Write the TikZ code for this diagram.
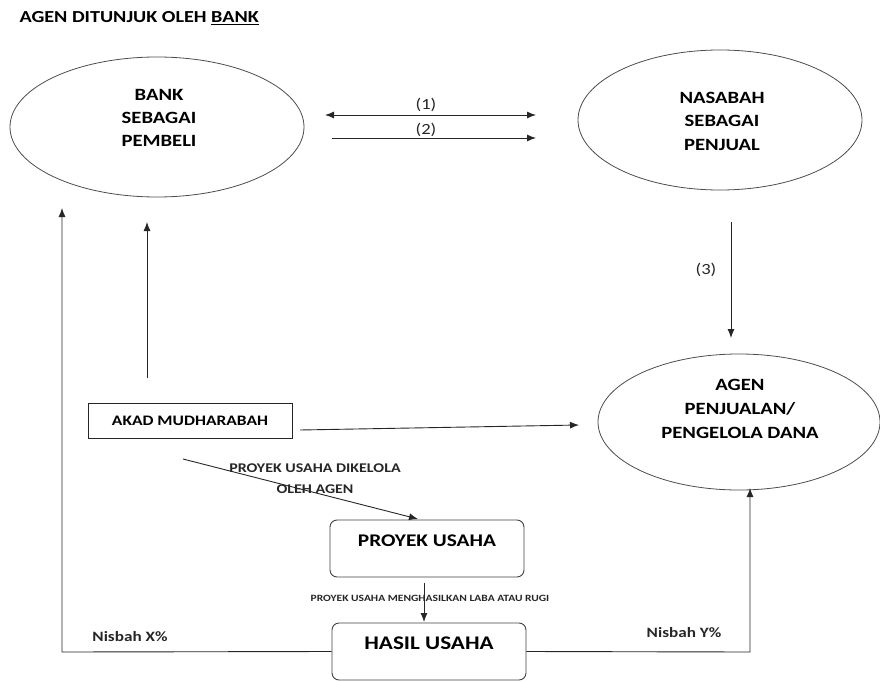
\documentclass[tikz,border=0pt]{standalone}
\usepackage{fontspec}
\setmainfont{Carlito}[FakeStretch=1.2]
\usetikzlibrary{arrows.meta,shapes.geometric}
\begin{document}
\begin{tikzpicture}[x=1pt,y=-1pt,
  every node/.style={font=\bfseries},
  arr/.style={draw=black!85,line width=0.9pt,-{Latex[length=9pt,width=7pt]}},
  lbl/.style={font=\bfseries\fontsize{14.3}{16}\selectfont,text=black!85},
  num/.style={font=\fontsize{15.5}{17}\selectfont,text=black!85},
  rbox/.style={draw=black!75,line width=0.9pt,rounded corners=7pt,minimum width=194pt,minimum height=57pt}]
\useasboundingbox (0,0) rectangle (880,682);
\node[anchor=west,font=\bfseries\fontsize{16.8}{18}\selectfont] (title) at (16,18) {AGEN DITUNJUK OLEH \underline{BANK}};
% ellipses
\draw[black!70,line width=0.8pt] (157,127) ellipse [x radius=147, y radius=70];
\node[align=center,font=\bfseries\fontsize{17.2}{23}\selectfont] (banktxt) at (159,118) {BANK\\SEBAGAI\\PEMBELI};
\draw[black!70,line width=0.8pt] (720,120) ellipse [x radius=142, y radius=70];
\node[align=center,font=\bfseries\fontsize{17.2}{23.5}\selectfont] (nastxt) at (722,121) {NASABAH\\SEBAGAI\\PENJUAL};
\draw[black!70,line width=0.8pt] (739,422) ellipse [x radius=141, y radius=68];
\node[align=center,font=\bfseries\fontsize{17.2}{24}\selectfont] (agentxt) at (740,409) {AGEN\\PENJUALAN/\\PENGELOLA DANA};
% arrows 1 2 3
\coordinate (a1) at (325,115); \coordinate (b1) at (536,115);
\coordinate (a2) at (332,138); \coordinate (b2) at (536,138);
\draw[arr,{Latex[length=9pt,width=7pt]}-{Latex[length=9pt,width=7pt]}] (a1) -- (b1);
\draw[arr] (a2) -- (b2);
\node[num] (l1) at (426,105) {(1)};
\node[num] (l2) at (426,130) {(2)};
\coordinate (a3) at (731,222); \coordinate (b3) at (731,338);
\draw[arr] (a3) -- (b3);
\node[num] (l3) at (706,270) {(3)};
% akad box
\node[draw=black!85,line width=0.9pt,minimum width=204pt,minimum height=35pt,font=\bfseries\fontsize{14.5}{16}\selectfont] (akad) at (190,420.5) {AKAD MUDHARABAH};
\coordinate (akR) at (300,430); \coordinate (agL) at (579,425);
\draw[arr] (akR) -- (agL);
\coordinate (up1) at (147,378); \coordinate (up2) at (147,222);
\draw[arr] (up1) -- (up2);
% proyek
\node[rbox] (proyek) at (427,548.5) {};
\node[font=\bfseries\fontsize{17.8}{19}\selectfont] (proyektxt) at (427,541) {PROYEK USAHA};
\coordinate (d1) at (183,459); \coordinate (d2) at (418,519);
\draw[arr] (d1) -- (d2);
\node[lbl,align=center,font=\bfseries\fontsize{13.3}{21}\selectfont] (dlbl) at (315,479) {PROYEK USAHA DIKELOLA\\OLEH AGEN};
% hasil
\node[rbox] (hasil) at (429,651.5) {};
\node[font=\bfseries\fontsize{19.3}{21}\selectfont] (hasiltxt) at (429,643) {HASIL USAHA};
\coordinate (p1) at (424,583); \coordinate (p2) at (424,622);
\draw[arr] (p1) -- (p2);
\node[lbl,font=\bfseries\fontsize{9.6}{11}\selectfont] (plbl) at (430,598) {PROYEK USAHA MENGHASILKAN LABA ATAU RUGI};
% nisbah lines
\coordinate (xc) at (62,652); \coordinate (xt) at (62,208);
\draw[arr] (hasil.west) -- (xc) -- (xt);
\coordinate (yc) at (750,652); \coordinate (yt) at (750,488);
\draw[arr] (hasil.east) -- (yc) -- (yt);
\node[lbl] (nx) at (130,637) {Nisbah X\%};
\node[lbl] (ny) at (684,633) {Nisbah Y\%};
\end{tikzpicture}
\end{document}
